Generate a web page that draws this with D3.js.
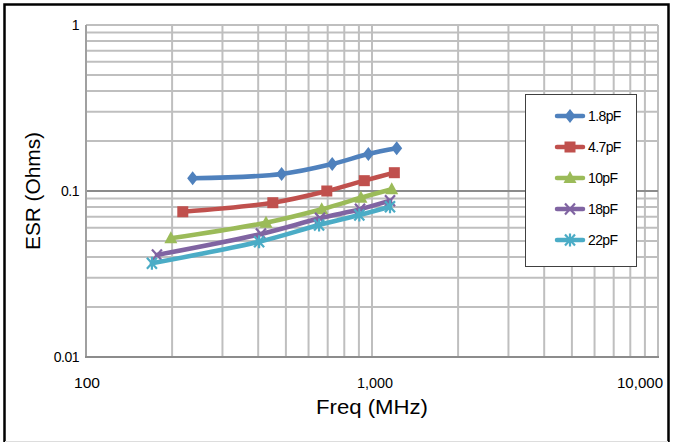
<!DOCTYPE html>
<html><head><meta charset="utf-8">
<script src="https://cdn.jsdelivr.net/npm/d3@7"></script>
<style>body{margin:0;background:#fff}svg{display:block;font-family:"Liberation Sans",Arial,sans-serif}</style>
</head><body>
<svg id="c" width="673" height="443"></svg>
<script>
const seriesNames = ["1.8pF","4.7pF","10pF","18pF","22pF"];
const seriesColors = ["#4F81BD","#C0504D","#9BBB59","#8064A2","#4BACC6"];
const seriesMarkers = ["diamond","square","triangle","x","asterisk"];
const freq18 = [236,483,726,971,1220];
const esr18  = [0.1193,0.1266,0.1455,0.167,0.1808];
const freq47 = [218,450,695,940,1197];
const esr47  = [0.075,0.085,0.100,0.1154,0.1289];
const freq10 = [198,426,667,915,1172];
const esr10  = [0.0519,0.0644,0.0776,0.0911,0.1024];
const freq18b = [177,409,658,908,1156];
const esr18b  = [0.0412,0.0551,0.0685,0.0776,0.0874];
const freq22 = [170,403,653,903,1156];
const esr22  = [0.0367,0.0495,0.0624,0.0717,0.0804];
const xTickLabels = ["100","1,000","10,000"];
const yTickLabels = ["0.01","0.1","1"];

const seriesData = [[freq18,esr18],[freq47,esr47],[freq10,esr10],[freq18b,esr18b],[freq22,esr22]];

const svg = d3.select("#c");
const L=86,R=658,T=25,B=357;
const x = d3.scaleLog().domain([100,10000]).range([L,R]);
const y = d3.scaleLog().domain([0.01,1]).range([B,T]);

// outer frame
svg.append("path").attr("d",`M4.5,442 L4.5,4.5 L668.5,4.5 L668.5,442`).attr("fill","none").attr("stroke","#000").attr("stroke-width",2.5);
svg.append("line").attr("x1",5).attr("x2",668).attr("y1",441.5).attr("y2",441.5).attr("stroke","#ddd").attr("stroke-width",1);

// grid
const xg=[], yg=[];
for (let d of [100,1000]) for (let k=1;k<10;k++) xg.push(d*k);
xg.push(10000);
for (let d of [0.01,0.1]) for (let k=1;k<10;k++) yg.push(+(d*k).toFixed(4));
yg.push(1);
const grid = svg.append("g");
grid.selectAll(".vx").data(xg.filter(v=>v!==100)).enter().append("line")
  .attr("x1",d=>x(d)).attr("x2",d=>x(d)).attr("y1",T).attr("y2",B)
  .attr("stroke","#bfbfbf").attr("stroke-width",2);
grid.selectAll(".hy").data(yg.filter(v=>v!==0.01 && v!==0.1)).enter().append("line")
  .attr("x1",L).attr("x2",R).attr("y1",d=>y(d)).attr("y2",d=>y(d))
  .attr("stroke","#bfbfbf").attr("stroke-width",2);
grid.append("line").attr("x1",L).attr("x2",R).attr("y1",y(0.1)).attr("y2",y(0.1)).attr("stroke","#8c8c8c").attr("stroke-width",2);
// axes lines
svg.append("line").attr("x1",L).attr("x2",L).attr("y1",T).attr("y2",B).attr("stroke","#a0a0a0").attr("stroke-width",2);
svg.append("line").attr("x1",L-1).attr("x2",R+1).attr("y1",B).attr("y2",B).attr("stroke","#8c8c8c").attr("stroke-width",2);

// tick labels
const xVals=[100,1000,10000];
svg.selectAll(".xl").data(xVals).enter().append("text")
  .attr("x",(d,i)=>x(d)+[1,3,-18][i]).attr("y",388).attr("text-anchor","middle")
  .attr("font-size",14).attr("textLength",(d,i)=>[26,36,46][i]).attr("lengthAdjust","spacingAndGlyphs")
  .text((d,i)=>xTickLabels[i]);
const yVals=[0.01,0.1,1];
svg.selectAll(".yl").data(yVals).enter().append("text")
  .attr("x",79).attr("y",d=>y(d)+5).attr("text-anchor","end")
  .attr("font-size",14).attr("letter-spacing",-0.5).text((d,i)=>yTickLabels[i]);

// axis titles
svg.append("text").attr("x",372).attr("y",414).attr("text-anchor","middle").attr("font-size",20)
  .attr("textLength",112).attr("lengthAdjust","spacingAndGlyphs").text("Freq (MHz)");
svg.append("text").attr("transform","translate(40,191) rotate(-90)").attr("text-anchor","middle").attr("font-size",20)
  .attr("textLength",118).attr("lengthAdjust","spacingAndGlyphs").text("ESR (Ohms)");

function marker(g, type, cx, cy, color){
  const s=5.5;
  if(type==="diamond") g.append("path").attr("d",`M${cx},${cy-7}L${cx+5.5},${cy}L${cx},${cy+7}L${cx-5.5},${cy}Z`).attr("fill",color);
  else if(type==="square") g.append("rect").attr("x",cx-s).attr("y",cy-s).attr("width",2*s).attr("height",2*s).attr("fill",color);
  else if(type==="triangle") g.append("path").attr("d",`M${cx},${cy-7}L${cx+6.5},${cy+5}L${cx-6.5},${cy+5}Z`).attr("fill",color);
  else {
    let d=`M${cx-5},${cy-5.5}L${cx+5},${cy+5.5}M${cx-5},${cy+5.5}L${cx+5},${cy-5.5}`;
    if(type==="asterisk") d+=`M${cx},${cy-6.5}L${cx},${cy+6.5}`;
    g.append("path").attr("d",d).attr("stroke",color).attr("stroke-width",2.2).attr("fill","none");
  }
}

const line = d3.line().x(d=>x(d[0])).y(d=>y(d[1])).curve(d3.curveCatmullRom.alpha(0.5));
seriesData.forEach(([fs,vs],i)=>{
  const pts = fs.map((f,j)=>[f,vs[j]]);
  const g = svg.append("g");
  g.append("path").datum(pts).attr("d",line).attr("fill","none").attr("stroke",seriesColors[i]).attr("stroke-width",4.5).attr("stroke-linecap","round").attr("stroke-linejoin","round");
  pts.forEach(p=>marker(g,seriesMarkers[i],x(p[0]),y(p[1]),seriesColors[i]));
});

// legend
const lg = svg.append("g");
lg.append("rect").attr("x",525.5).attr("y",94.5).attr("width",111).attr("height",172).attr("fill","#fff").attr("stroke","#404040").attr("stroke-width",1);
seriesNames.forEach((n,i)=>{
  const cy = 116 + i*31;
  lg.append("line").attr("x1",557).attr("x2",583).attr("y1",cy).attr("y2",cy).attr("stroke",seriesColors[i]).attr("stroke-width",4.5).attr("stroke-linecap","round");
  marker(lg,seriesMarkers[i],570,cy,seriesColors[i]);
  lg.append("text").attr("x",588).attr("y",cy+5).attr("font-size",14).attr("letter-spacing",-0.6).text(n);
});
</script>
</body></html>
